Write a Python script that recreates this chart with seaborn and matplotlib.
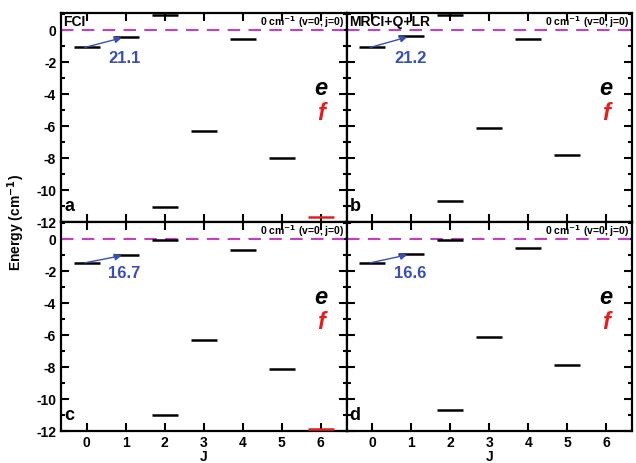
import numpy as np
import matplotlib
matplotlib.use("Agg")
import matplotlib.pyplot as plt
import seaborn as sns
from matplotlib.ticker import MultipleLocator

sns.set_theme(style="ticks")
plt.rcParams['font.family'] = ['Liberation Sans', 'DejaVu Sans']
plt.rcParams['font.weight'] = 'bold'
plt.rcParams['mathtext.default'] = 'bf'
for k in ['text.color', 'axes.labelcolor', 'xtick.color', 'ytick.color',
          'xtick.labelcolor', 'ytick.labelcolor']:
    plt.rcParams[k] = 'black'

# ---- data ----
panel_letters = ["a", "b", "c", "d"]
method_labels = ["FCI", "MRCI+Q+LR", "", ""]
e_J = [0, 1, 2, 2, 3, 4, 5]
e_a = [-1.1, -0.45, 0.95, -11.05, -6.3, -0.6, -8.0]
e_b = [-1.1, -0.4, 0.95, -10.7, -6.1, -0.55, -7.8]
e_c = [-1.5, -1.0, -0.05, -11.0, -6.3, -0.7, -8.1]
e_d = [-1.5, -0.95, -0.05, -10.7, -6.1, -0.6, -7.85]
f_J = [6]
f_a = [-11.7]
f_b = [-12.6]
f_c = [-11.9]
f_d = [-12.6]
splittings = ["21.1", "21.2", "16.7", "16.6"]
ref_text = "0 cm$^{-1}$ (v=0, j=0)"
xticks = [0, 1, 2, 3, 4, 5, 6]
yticks = [0, -2, -4, -6, -8, -10, -12]

e_sets = [e_a, e_b, e_c, e_d]
f_sets = [f_a, f_b, f_c, f_d]

fig = plt.figure(figsize=(6.36, 4.64), dpi=100)
L, R, T, B = 61/636, 632/636, 1-14/464, 1-432/464
W = (R-L)/2
H = (T-B)/2
blue = "#3a4fb0"
red = "#e02020"
mag = "#c23fbf"

for i in range(4):
    r, c = divmod(i, 2)
    ax = fig.add_axes([L + c*W, B + (1-r)*H, W, H])
    ax.set_xlim(-0.66, 6.66)
    ax.set_ylim(-12, 1.05)
    ax.axhline(0, color=mag, lw=1.5, ls=(0, (6, 4)), zorder=1)
    J = np.array(e_J)
    ax.hlines(e_sets[i], J-0.33, J+0.33, color="black", lw=1.8, zorder=3)
    Jf = np.array(f_J)
    ax.hlines(f_sets[i], Jf-0.33, Jf+0.33, color=red, lw=1.8, zorder=3)
    # arrow from J=0 level to J=1 level
    y0, y1 = e_sets[i][0], e_sets[i][1]
    ax.annotate("", xy=(0.9, y1 - 0.05), xytext=(-0.05, y0),
                arrowprops=dict(arrowstyle="-|>", color=blue, lw=1.0,
                                mutation_scale=10, shrinkA=0, shrinkB=0), zorder=4)
    ax.text(0.97, y0 - 0.6, splittings[i], color=blue, fontsize=12,
            fontweight="bold", ha="center", va="center")
    ax.text(6.0, -3.6, "e", fontsize=17, fontweight="bold", style="italic",
            ha="center", va="center", color="black")
    ax.text(6.0, -5.15, "f", fontsize=17, fontweight="bold", style="italic",
            ha="center", va="center", color=red)
    ax.text(6.6, 0.08, ref_text, fontsize=7.5, fontweight="bold",
            ha="right", va="bottom")
    if method_labels[i]:
        ax.text(-0.6, 0.12, method_labels[i], fontsize=10, fontweight="bold",
                ha="left", va="bottom")
    ax.text(-0.58, -11.0, panel_letters[i], fontsize=13, fontweight="bold",
            ha="left", va="center")
    ax.set_xticks(xticks)
    ax.set_yticks(yticks)
    ax.yaxis.set_minor_locator(MultipleLocator(1))
    ax.tick_params(axis="both", which="both", direction="in", top=True,
                   right=True, width=1.5, labelsize=10, colors="black")
    ax.tick_params(axis="x", which="major", pad=3)
    ax.tick_params(axis="both", which="major", length=6)
    ax.tick_params(axis="both", which="minor", length=3)
    for s in ax.spines.values():
        s.set_linewidth(1.6)
        s.set_color("black")
    if c == 1:
        ax.set_yticklabels([])
    else:
        ax.set_yticklabels([str(v) for v in yticks], fontweight="bold")
    if r == 0:
        ax.set_xticklabels([])
    else:
        ax.set_xticklabels([str(v) for v in xticks], fontweight="bold")
        ax.set_xlabel("J", fontsize=10, fontweight="bold", labelpad=0)

fig.text(0.025, (T+B)/2, "Energy (cm$^{-1}$)", rotation=90, fontsize=10,
         fontweight="bold", ha="center", va="center")

fig.savefig("out.png", dpi=100)
